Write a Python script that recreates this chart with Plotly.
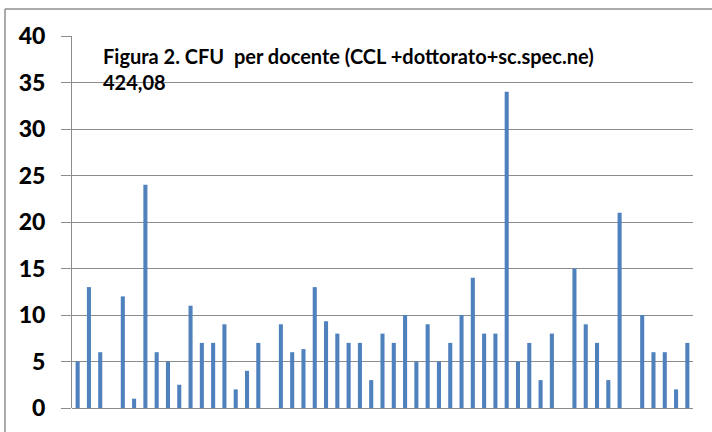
import plotly.graph_objects as go

# CFU per docente (one bar per teacher; 0 = no bar)
docenti = ["D%02d" % i for i in range(1, 56)]
cfu = [5, 13, 6, 0, 12, 1, 24, 6, 5, 2.5,
       11, 7, 7, 9, 2, 4, 7, 0, 9, 6,
       6.33, 13, 9.33, 8, 7, 7, 3, 8, 7, 10,
       5, 9, 5, 7, 10, 14, 8, 8, 34, 5,
       7, 3, 8, 0, 15, 9, 7, 3, 21, 0,
       10, 6, 6, 2, 7]
y_ticks = [0, 5, 10, 15, 20, 25, 30, 35, 40]
title_line1 = "Figura 2. CFU\u00a0 per docente (CCL +dottorato+sc.spec.ne)"
title_line2 = "424,08"

FONT = "Lato, 'Open Sans', sans-serif"
GRID = "#8c8c8c"
BORDER = "#8f8f8f"

fig = go.Figure(go.Bar(x=docenti, y=cfu, marker=dict(color="#4F81BD", line=dict(width=0))))

W, H = 712, 432
L, R, T, B = 72, 19, 36, 24
pw, ph = W - L - R, H - T - B

def px(x):
    return (x - L) / pw

def py(y):
    return (H - B - y) / ph

fig.update_layout(
    width=W, height=H,
    margin=dict(l=L, r=R, t=T, b=B),
    paper_bgcolor="white", plot_bgcolor="white",
    bargap=0.64,
    showlegend=False,
    font=dict(family=FONT, color="black"),
    xaxis=dict(showticklabels=False, showgrid=False, ticks="", zeroline=False,
               showline=False),
    yaxis=dict(range=[0, 40], tickvals=y_ticks, showgrid=True, gridcolor=GRID, gridwidth=1,
               ticks="outside", ticklen=10, tickcolor=GRID, tickwidth=1,
               showline=True, linecolor=GRID, linewidth=1, zeroline=True,
               zerolinecolor=GRID, zerolinewidth=1,
               tickfont=dict(family=FONT, size=23, color="black", weight=900),
               ticklabelstandoff=11),
    annotations=[
        dict(text=title_line1, xref="paper", yref="paper",
             x=px(101), y=py(56), xanchor="left", yanchor="middle", showarrow=False,
             font=dict(family=FONT, size=20, color="black", weight=700)),
        dict(text=title_line2, xref="paper", yref="paper",
             x=px(101), y=py(82), xanchor="left", yanchor="middle", showarrow=False,
             font=dict(family=FONT, size=20, color="black", weight=700)),
    ],
    shapes=[
        dict(type="line", xref="paper", yref="paper",
             x0=px(5), x1=px(712), y0=py(9), y1=py(9),
             line=dict(color=BORDER, width=1.5)),
        dict(type="line", xref="paper", yref="paper",
             x0=px(5), x1=px(5), y0=py(9), y1=py(432),
             line=dict(color=BORDER, width=1.5)),
    ],
)

fig.write_html("out.html", config={"displayModeBar": False},
               post_script="document.body.style.margin='0';")
